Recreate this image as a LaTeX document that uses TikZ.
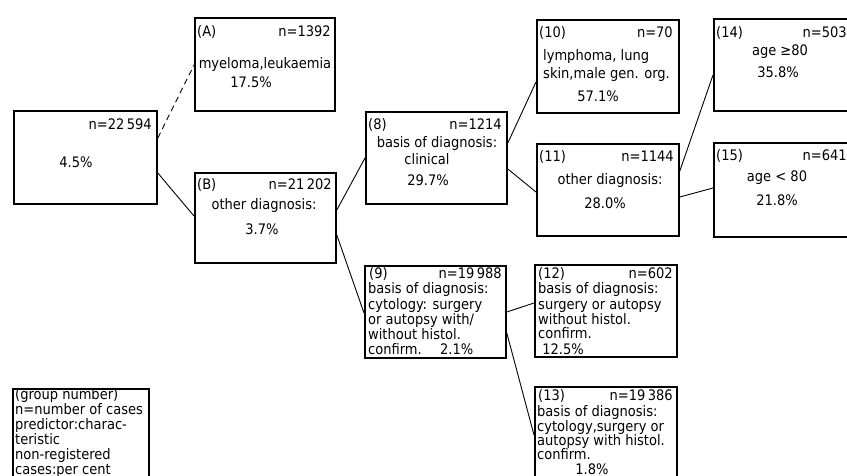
\documentclass[tikz,border=0pt]{standalone}
\usepackage{fontspec}
\setmainfont{DejaVu Sans Condensed}
\newcommand\dfont{\fontsize{14.5}{15}\selectfont}
\begin{document}
\begin{tikzpicture}[x=1pt,y=-1pt,
  box/.style={draw, line width=1.8pt, inner sep=0pt, anchor=north west},
  lab/.style={inner sep=0pt, font=\dfont},
  link/.style={line width=0.9pt},
  dlink/.style={line width=0.9pt, dash pattern=on 6pt off 4pt}]
\useasboundingbox (0,0) rectangle (847,476);
\clip (0,0) rectangle (847,476);
% boxes
\node[box, minimum width=143pt, minimum height=93pt] (root) at (13,110) {};
\node[box, minimum width=140pt, minimum height=93pt] (A) at (194,17) {};
\node[box, minimum width=141pt, minimum height=90pt] (B) at (194,172) {};
\node[box, minimum width=141pt, minimum height=92pt] (b8) at (365,111) {};
\node[box, minimum width=141pt, minimum height=92pt] (b9) at (364,265) {};
\node[box, minimum width=142pt, minimum height=93pt] (b10) at (536,19) {};
\node[box, minimum width=142pt, minimum height=92pt] (b11) at (536,143) {};
\node[box, minimum width=142pt, minimum height=92pt] (b12) at (534,264) {};
\node[box, minimum width=142pt, minimum height=120pt] (b13) at (534,386) {};
\node[box, minimum width=140pt, minimum height=92pt] (b14) at (713,18) {};
\node[box, minimum width=140pt, minimum height=94pt] (b15) at (713,142) {};
\node[box, minimum width=136pt, minimum height=120pt] (leg) at (12,388) {};
% connectors
\draw[dlink] ([yshift=-28pt]root.north east) -- ([yshift=-48pt]A.north west);
\draw[link] ([yshift=-63pt]root.north east) -- ([yshift=-44pt]B.north west);
\draw[link] ([yshift=-38pt]B.north east) -- ([yshift=-47pt]b8.north west);
\draw[link] ([yshift=-63pt]B.north east) -- ([yshift=-48pt]b9.north west);
\draw[link] ([yshift=-32pt]b8.north east) -- ([yshift=-63pt]b10.north west);
\draw[link] ([yshift=-58pt]b8.north east) -- ([yshift=-49pt]b11.north west);
\draw[link] ([yshift=-28pt]b11.north east) -- ([yshift=-57pt]b14.north west);
\draw[link] ([yshift=-54pt]b11.north east) -- ([yshift=-46pt]b15.north west);
\draw[link] ([yshift=-47pt]b9.north east) -- ([yshift=-39pt]b12.north west);
\draw[link] ([yshift=-68pt]b9.north east) -- ([yshift=-49pt]b13.north west);
% root texts
\node[lab, anchor=base east] (rootn) at (152,130) {n=22\,594};
\node[lab, anchor=base] (rootp) at (76,168) {4.5\%};
% A
\node[lab, anchor=base west] (Ag) at (197,37) {(A)};
\node[lab, anchor=base east] (An) at (331,37) {n=1392};
\node[lab, anchor=base] (Ap) at (265,69) {myeloma,leukaemia};
\node[lab, anchor=base] (Ar) at (251,88) {17.5\%};
% B
\node[lab, anchor=base west] (Bg) at (197,190) {(B)};
\node[lab, anchor=base east] (Bn) at (332,190) {n=21\,202};
\node[lab, anchor=base] (Bp) at (264,210) {other diagnosis:};
\node[lab, anchor=base] (Br) at (262,234) {3.7\%};
% 8
\node[lab, anchor=base west] (g8) at (368,130) {(8)};
\node[lab, anchor=base east] (n8) at (502,130) {n=1214};
\node[lab, anchor=base] (p8a) at (437,148) {basis of diagnosis:};
\node[lab, anchor=base] (p8b) at (427,165) {clinical};
\node[lab, anchor=base] (r8) at (428,186) {29.7\%};
% 10
\node[lab, anchor=base west] (g10) at (539,38) {(10)};
\node[lab, anchor=base east] (n10) at (673,38) {n=70};
\node[lab, anchor=base west] (p10a) at (543,61) {lymphoma, lung};
\node[lab, anchor=base west] (p10b) at (543,79) {skin,male gen. org.};
\node[lab, anchor=base] (r10) at (598,102) {57.1\%};
% 11
\node[lab, anchor=base west] (g11) at (539,162) {(11)};
\node[lab, anchor=base east] (n11) at (674,162) {n=1144};
\node[lab, anchor=base] (p11) at (610,185) {other diagnosis:};
\node[lab, anchor=base] (r11) at (605,208) {28.0\%};
% 14
\node[lab, anchor=base west] (g14) at (716,38) {(14)};
\node[lab, anchor=base east] (n14) at (847,38) {n=503};
\node[lab, anchor=base] (p14) at (780,56) {age ≥80};
\node[lab, anchor=base] (r14) at (778,78) {35.8\%};
% 15
\node[lab, anchor=base west] (g15) at (716,161) {(15)};
\node[lab, anchor=base east] (n15) at (847,161) {n=641};
\node[lab, anchor=base] (p15) at (777,182) {age < 80};
\node[lab, anchor=base] (r15) at (777,206) {21.8\%};
% 9
\node[lab, anchor=base west] (g9) at (369,279) {(9)};
\node[lab, anchor=base east] (n9) at (502,279) {n=19\,988};
\node[lab, anchor=base west] (p9a) at (368,294) {basis of diagnosis:};
\node[lab, anchor=base west] (p9b) at (368,309) {cytology: surgery};
\node[lab, anchor=base west] (p9c) at (368,324) {or autopsy with/};
\node[lab, anchor=base west] (p9d) at (368,339) {without histol.};
\node[lab, anchor=base west] (p9e) at (368,354) {confirm.};
\node[lab, anchor=base west] (r9) at (440,354) {2.1\%};
% 12
\node[lab, anchor=base west] (g12) at (538,279) {(12)};
\node[lab, anchor=base east] (n12) at (673,279) {n=602};
\node[lab, anchor=base west] (p12a) at (538,294) {basis of diagnosis:};
\node[lab, anchor=base west] (p12b) at (538,309) {surgery or autopsy};
\node[lab, anchor=base west] (p12c) at (538,324) {without histol.};
\node[lab, anchor=base west] (p12d) at (538,338) {confirm.};
\node[lab, anchor=base] (r12) at (563,354) {12.5\%};
% 13
\node[lab, anchor=base west] (g13) at (538,400) {(13)};
\node[lab, anchor=base east] (n13) at (673,400) {n=19\,386};
\node[lab, anchor=base west] (p13a) at (537,416) {basis of diagnosis:};
\node[lab, anchor=base west] (p13b) at (537,431) {cytology,surgery or};
\node[lab, anchor=base west] (p13c) at (537,445) {autopsy with histol.};
\node[lab, anchor=base west] (p13d) at (537,459) {confirm.};
\node[lab, anchor=base] (r13) at (592,474) {1.8\%};
% legend
\node[lab, anchor=base west] (l1) at (15,399) {(group number)};
\node[lab, anchor=base west] (l2) at (15,414) {n=number of cases};
\node[lab, anchor=base west] (l3) at (15,429) {predictor:charac-};
\node[lab, anchor=base west] (l4) at (15,444) {teristic};
\node[lab, anchor=base west] (l5) at (15,459) {non-registered};
\node[lab, anchor=base west] (l6) at (15,474) {cases:per cent};
\end{tikzpicture}
\end{document}
